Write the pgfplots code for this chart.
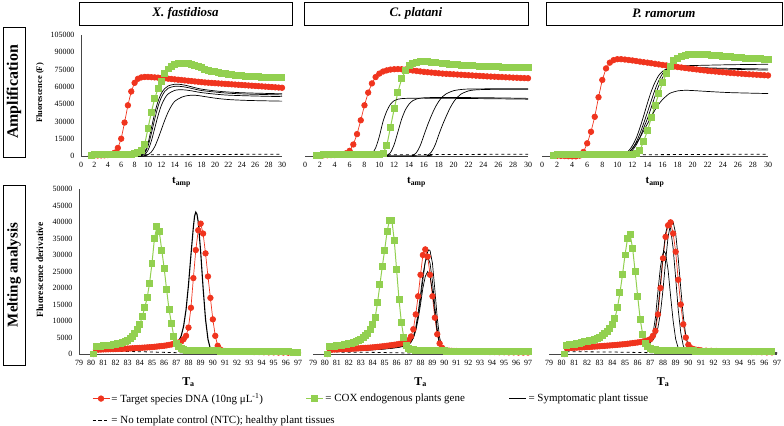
\documentclass[border=0pt]{standalone}
\usepackage{fontspec}
\setmainfont{Liberation Serif}
\usepackage{pgfplots}
\usepackage{pgfplotstable}
\pgfplotsset{compat=1.18}
\definecolor{cRed}{RGB}{240,52,30}
\definecolor{cGrn}{RGB}{146,208,80}

\pgfplotstableread[row sep=\\]{
t r g\\
1.5 500 800\\ 2 500 900\\ 2.5 500 1000\\ 3 550 1000\\ 3.5 600 1000\\ 4 800 1000\\ 4.5 1200 1000\\ 5 2800 1000\\
5.5 7000 1000\\ 6 15000 1000\\ 6.5 29000 1100\\ 7 44000 1200\\ 7.5 56000 1400\\ 8 63500 1800\\ 8.5 67000 3000\\
9 68200 5000\\ 9.5 68600 10000\\ 10 68600 24000\\ 10.5 68400 38000\\ 11 68200 50000\\ 11.5 68000 58500\\
12 67700 65000\\ 12.5 67400 71500\\ 13 67100 75500\\ 13.5 66800 78000\\ 14 66500 79300\\ 14.5 66200 80000\\
15 65900 80300\\ 15.5 65600 80300\\ 16 65300 80000\\ 16.5 65000 79300\\ 17 64700 78400\\ 17.5 64400 77400\\
18 64100 76400\\ 18.5 63800 75400\\ 19 63600 74500\\ 19.5 63400 73700\\ 20 63200 73000\\ 20.5 63000 72400\\
21 62800 71800\\ 21.5 62600 71300\\ 22 62400 70900\\ 22.5 62200 70500\\ 23 62000 70200\\ 23.5 61800 69900\\
24 61600 69600\\ 24.5 61400 69400\\ 25 61200 69200\\ 25.5 61000 69000\\ 26 60800 68800\\ 26.5 60600 68600\\
27 60400 68500\\ 27.5 60200 68300\\ 28 60000 68200\\ 28.5 59800 68100\\ 29 59600 68000\\ 29.5 59400 67900\\
30 59200 67800\\
}\ampA

\pgfplotstableread[row sep=\\]{
t r g\\
1.5 600 700\\ 2 600 800\\ 2.5 650 900\\ 3 700 1000\\ 3.5 800 1000\\ 4 900 1000\\ 4.5 1100 1000\\ 5 1500 1000\\
5.5 2300 1000\\ 6 4500 1000\\ 6.5 10000 1000\\ 7 19000 1000\\ 7.5 31000 1000\\ 8 44000 1000\\ 8.5 55000 1000\\
9 63000 1000\\ 9.5 68500 1000\\ 10 71500 1100\\ 10.5 73300 2500\\ 11 74300 9000\\ 11.5 75000 25000\\
12 75300 41000\\ 12.5 75400 55500\\ 13 75300 67000\\ 13.5 75000 74000\\ 14 74600 78500\\ 14.5 74200 80500\\
15 73800 81500\\ 15.5 73400 81800\\ 16 73000 81800\\ 16.5 72700 81600\\ 17 72400 81300\\ 17.5 72100 81000\\
18 71800 80700\\ 18.5 71500 80400\\ 19 71300 80100\\ 19.5 71100 79800\\ 20 70900 79500\\ 20.5 70700 79200\\
21 70500 78900\\ 21.5 70300 78700\\ 22 70100 78500\\ 22.5 69900 78300\\ 23 69700 78100\\ 23.5 69500 77900\\
24 69300 77800\\ 24.5 69100 77600\\ 25 68900 77500\\ 25.5 68800 77400\\ 26 68600 77300\\ 26.5 68500 77200\\
27 68300 77100\\ 27.5 68200 77000\\ 28 68000 76900\\ 28.5 67900 76800\\ 29 67700 76700\\ 29.5 67600 76600\\
30 67500 76500\\
}\ampB

\pgfplotstableread[row sep=\\]{
t r g\\
1.5 300 800\\ 2 200 900\\ 2.5 100 1000\\ 3 0 1000\\ 3.5 -200 1000\\ 4 -300 1000\\ 4.5 -300 1000\\ 5 300 1000\\
5.5 3500 1000\\ 6 11000 1000\\ 6.5 21000 1000\\ 7 34000 1000\\ 7.5 51000 1000\\ 8 66000 1000\\ 8.5 76000 1000\\
9 81000 1000\\ 9.5 83200 1000\\ 10 84000 1000\\ 10.5 84000 1000\\ 11 83700 1000\\ 11.5 83300 1000\\
12 82900 1100\\ 12.5 82400 1800\\ 13 81900 5000\\ 13.5 81400 13000\\ 14 81000 22000\\ 14.5 80500 33000\\
15 80000 44000\\ 15.5 79500 54000\\ 16 79000 63500\\ 16.5 78600 71500\\ 17 78100 78000\\ 17.5 77600 82500\\
18 77200 85000\\ 18.5 76800 86500\\ 19 76300 87400\\ 19.5 75900 87900\\ 20 75500 88200\\ 20.5 75100 88300\\
21 74700 88300\\ 21.5 74300 88100\\ 22 73900 87900\\ 22.5 73600 87600\\ 23 73300 87300\\ 23.5 73000 87000\\
24 72700 86700\\ 24.5 72400 86400\\ 25 72100 86100\\ 25.5 71900 85800\\ 26 71600 85500\\ 26.5 71400 85300\\
27 71100 85000\\ 27.5 70900 84800\\ 28 70700 84600\\ 28.5 70500 84400\\ 29 70300 84200\\ 29.5 70100 84000\\
30 69900 83800\\
}\ampC

\pgfplotstableread[row sep=\\]{
t r g\\
80.2 0 0\\ 80.4 1300 2300\\ 80.6 1330 2350\\ 80.8 1360 2400\\ 81.0 1400 2450\\ 81.2 1420 2500\\ 81.4 1440 2600\\
81.6 1460 2700\\ 81.8 1480 2800\\ 82.0 1500 2950\\ 82.2 1530 3100\\ 82.4 1560 3300\\ 82.6 1590 3550\\
82.8 1620 3850\\ 83.0 1650 4200\\ 83.2 1690 4700\\ 83.4 1730 5300\\ 83.6 1770 6200\\ 83.8 1810 7400\\
84.0 1850 9000\\ 84.2 1900 11300\\ 84.4 1950 14000\\ 84.6 2000 17000\\ 84.8 2050 21500\\ 85.0 2100 27500\\
85.2 2180 35000\\ 85.4 2260 38500\\ 85.6 2340 37000\\ 85.8 2420 31500\\ 86.0 2500 26000\\ 86.2 2620 19500\\
86.4 2750 13500\\ 86.6 2900 9300\\ 86.8 3100 5200\\ 87.0 3300 3200\\ 87.2 3500 2200\\ 87.4 3800 1600\\
87.6 4500 1300\\ 87.8 5500 1200\\ 88.0 8000 1150\\ 88.2 14000 1100\\ 88.4 23000 1100\\ 88.6 31500 1050\\
88.8 37500 1050\\ 89.0 39500 1000\\ 89.2 36500 1000\\ 89.4 30500 1000\\ 89.6 23500 1000\\ 89.8 17000 950\\
90.0 10500 950\\ 90.2 5500 950\\ 90.4 2500 950\\ 90.6 1400 900\\ 90.8 1000 900\\ 91.0 900 900\\
91.4 850 900\\ 91.8 800 850\\ 92.2 750 850\\ 92.6 700 850\\ 93.0 650 800\\ 93.4 600 800\\ 93.8 600 800\\
94.2 550 750\\ 94.6 500 750\\ 95.0 500 700\\ 95.4 450 700\\ 95.8 450 650\\ 96.2 400 650\\ 96.6 400 600\\
97.0 350 600\\
}\melA

\pgfplotstableread[row sep=\\]{
t r g\\
80.2 0 0\\ 80.4 1300 2200\\ 80.6 1330 2300\\ 80.8 1360 2400\\ 81.0 1400 2500\\ 81.2 1430 2600\\ 81.4 1460 2700\\
81.6 1490 2850\\ 81.8 1520 3000\\ 82.0 1550 3150\\ 82.2 1590 3300\\ 82.4 1630 3500\\ 82.6 1670 3750\\
82.8 1710 4050\\ 83.0 1750 4400\\ 83.2 1800 4900\\ 83.4 1850 5500\\ 83.6 1900 6300\\ 83.8 1950 7500\\
84.0 2000 9000\\ 84.2 2080 11000\\ 84.4 2160 15500\\ 84.6 2240 21000\\ 84.8 2320 26500\\ 85.0 2400 31500\\
85.2 2500 37000\\ 85.4 2600 40500\\ 85.6 2700 40500\\ 85.8 2800 34500\\ 86.0 2900 25500\\ 86.2 3050 16500\\
86.4 3200 9500\\ 86.6 3400 5000\\ 86.8 3750 2500\\ 87.0 4200 1700\\ 87.2 5300 1400\\ 87.4 7500 1250\\
87.6 12000 1150\\ 87.8 17500 1100\\ 88.0 24000 1050\\ 88.2 30000 1050\\ 88.4 31700 1000\\ 88.6 29500 1000\\
88.8 24000 1000\\ 89.0 17500 1000\\ 89.2 11000 1000\\ 89.4 6000 950\\ 89.6 3200 950\\ 89.8 1900 950\\
90.0 1300 950\\ 90.2 1100 900\\ 90.4 1000 900\\ 90.6 950 900\\ 90.8 900 900\\ 91.0 900 900\\
91.4 850 850\\ 91.8 800 850\\ 92.2 750 850\\ 92.6 700 800\\ 93.0 700 800\\ 93.4 650 800\\ 93.8 600 750\\
94.2 600 750\\ 94.6 550 750\\ 95.0 550 700\\ 95.4 500 700\\ 95.8 500 700\\ 96.2 450 650\\ 96.6 450 650\\
97.0 450 650\\
}\melB

\pgfplotstableread[row sep=\\]{
t r g\\
80.2 0 0\\ 80.4 1800 2700\\ 80.6 1830 2800\\ 80.8 1860 2900\\ 81.0 1900 3000\\ 81.2 1940 3150\\ 81.4 1980 3300\\
81.6 2020 3500\\ 81.8 2060 3700\\ 82.0 2100 3850\\ 82.2 2150 4000\\ 82.4 2200 4200\\ 82.6 2250 4450\\
82.8 2300 4750\\ 83.0 2350 5100\\ 83.2 2410 5600\\ 83.4 2470 6200\\ 83.6 2530 6900\\ 83.8 2590 7800\\
84.0 2650 9000\\ 84.2 2720 10800\\ 84.4 2790 14000\\ 84.6 2860 18500\\ 84.8 2930 24000\\ 85.0 3000 30000\\
85.2 3100 35000\\ 85.4 3200 36300\\ 85.6 3300 32000\\ 85.8 3400 25000\\ 86.0 3500 17500\\ 86.2 3620 10500\\
86.4 3750 5800\\ 86.6 3900 3200\\ 86.8 4150 2200\\ 87.0 4500 1700\\ 87.2 5500 1400\\ 87.4 7000 1250\\
87.6 12000 1150\\ 87.8 20000 1100\\ 88.0 29000 1100\\ 88.2 35500 1050\\ 88.4 39000 1050\\ 88.6 39900 1050\\
88.8 36500 1000\\ 89.0 31000 1000\\ 89.2 22500 1000\\ 89.4 15000 1000\\ 89.6 9000 1000\\ 89.8 5000 950\\
90.0 2800 950\\ 90.2 1800 950\\ 90.4 1500 950\\ 90.6 1300 900\\ 90.8 1200 900\\ 91.0 1100 900\\
91.4 1000 900\\ 91.8 950 850\\ 92.2 900 850\\ 92.6 850 850\\ 93.0 800 800\\ 93.4 750 800\\ 93.8 700 800\\
94.2 700 750\\ 94.6 650 750\\ 95.0 600 750\\ 95.4 600 700\\ 95.8 550 700\\ 96.2 500 700\\ 96.6 500 650\\
}\melC

\pgfplotsset{
  every axis/.append style={
    scale only axis, clip=false, anchor=south west,
    tick label style={font=\fontsize{8}{9}\selectfont},
    /pgf/number format/fixed,
    /pgf/number format/precision=0,
    /pgf/number format/assume math mode=true,
    /pgf/number format/1000 sep={},
    scaled y ticks=false, scaled x ticks=false,
    major tick length=0pt,
    axis line style={gray!55!black, line width=0.6pt},
    xticklabel style={yshift=-2.5bp},
    yticklabel style={xshift=-3bp},
  },
  ampax/.style={xmin=0, xmax=30, ymin=0, ymax=105000, height=121bp,
    xtick={0,2,...,30},
    xlabel={\fontsize{11}{12}\selectfont\textbf{t\textsubscript{amp}}},
    xlabel style={at={(axis description cs:0.5,-0.215)}, anchor=center}},
  melax/.style={xmin=79, xmax=97, ymin=0, ymax=50000, height=165bp,
    xtick={79,80,...,97},
    xlabel={\fontsize{12}{13}\selectfont\textbf{T\textsubscript{a}}},
    xlabel style={at={(axis description cs:0.5,-0.17)}, anchor=center}},
  firstcol/.style={axis x line*=bottom, axis y line*=left},
  othercol/.style={axis x line*=bottom, axis y line=none, ytick=\empty},
  redS/.style={color=cRed, line width=0.7pt, mark=*, mark size=2.8pt, mark options={solid, fill=cRed, draw=cRed}},
  grnS/.style={color=cGrn, line width=1pt, mark=square*, mark size=3pt, mark options={solid, fill=cGrn, draw=cGrn}},
  blkS/.style={black, line width=0.7pt, no marks},
  ntcS/.style={black, dashed, line width=0.8pt, no marks},
}

\begin{document}
\begin{tikzpicture}[x=1bp,y=1bp]
\path[use as bounding box] (0,0) rectangle (784,425);

% column headers
\draw[line width=0.6pt] (79,400) rectangle (292,423);
\node[font=\fontsize{13}{14}\selectfont\bfseries\itshape] at (185.5,411.5) {X. fastidiosa};
\draw[line width=0.6pt] (304,400) rectangle (528,423);
\node[font=\fontsize{13}{14}\selectfont\bfseries\itshape] at (416,411.5) {C. platani};
\draw[line width=0.6pt] (546,400) rectangle (782,423);
\node[font=\fontsize{13}{14}\selectfont\bfseries\itshape] at (664,411.5) {P. ramorum};
% row headers
\draw[line width=0.6pt] (3,268) rectangle (25,398);
\node[rotate=90, font=\fontsize{16}{17}\selectfont\bfseries] at (14,333) {Amplification};
\draw[line width=0.6pt] (3,60) rectangle (25,240);
\node[rotate=90, font=\fontsize{15}{16}\selectfont\bfseries] at (14,150) {Melting analysis};

% ---------- Amplification ----------
\begin{axis}[ampax, firstcol, at={(81bp,269bp)}, width=201bp,
  ytick={0,15000,...,105000},
  ylabel={\fontsize{8.5}{9}\selectfont\textbf{Fluorescence (F)}},
  ylabel style={at={(axis description cs:-0.204,0.52)}, anchor=center}]
\addplot[redS] table[x=t,y=r]{\ampA};
\addplot[grnS] table[x=t,y=g]{\ampA};
\addplot[blkS, smooth] coordinates {(1.5,0)(8.5,0)(9,800)(9.5,3500)(10,11000)(10.5,24000)(11,37000)(11.5,47500)(12,54500)(12.5,58500)(13,60800)(14,62300)(15,62000)(16,60800)(17,59300)(18,58000)(20,56500)(22,55500)(25,54700)(30,54000)};
\addplot[blkS, smooth] coordinates {(1.5,0)(8.5,0)(9,500)(9.5,2500)(10,8500)(10.5,19500)(11,32000)(11.5,43000)(12,51000)(12.5,56000)(13,58800)(14,60500)(15,60300)(16,59300)(17,58000)(18,56800)(20,55500)(22,54500)(25,53700)(30,53000)};
\addplot[blkS, smooth] coordinates {(1.5,0)(9,0)(9.5,1200)(10,5000)(10.5,13000)(11,24000)(11.5,35000)(12,44000)(12.5,50000)(13,53800)(14,57000)(15,57500)(16,57000)(17,56000)(18,55000)(20,53700)(22,52800)(25,52200)(30,51500)};
\addplot[blkS, smooth] coordinates {(1.5,0)(9,0)(9.5,300)(10,1200)(10.5,3500)(11,8000)(11.5,15000)(12,23000)(12.5,31000)(13,38000)(13.5,43500)(14,47500)(15,51000)(16,52500)(17,52700)(18,52000)(20,50200)(22,49000)(25,48200)(30,47600)};
\addplot[ntcS] coordinates {(1.5,800)(10,1000)(20,1300)(30,1600)};
\end{axis}

\begin{axis}[ampax, othercol, at={(305bp,269bp)}, width=223bp]
\addplot[redS] table[x=t,y=r]{\ampB};
\addplot[grnS] table[x=t,y=g]{\ampB};
\addplot[blkS, smooth] coordinates {(1.5,0)(8,0)(8.5,400)(9,2000)(9.5,7000)(10,17000)(10.5,30000)(11,39000)(11.5,45000)(12,48000)(12.5,49300)(13,49800)(14,50100)(16,50200)(20,50000)(25,49700)(30,49300)};
\addplot[blkS, smooth] coordinates {(1.5,0)(10.5,0)(11,600)(11.5,3000)(12,10000)(12.5,21000)(13,32000)(13.5,40000)(14,45000)(14.5,48000)(15,49500)(16,50500)(18,50800)(20,50800)(25,50500)(30,50000)};
\addplot[blkS, smooth] coordinates {(1.5,0)(14,0)(14.5,600)(15,3000)(15.5,9000)(16,18000)(16.5,27000)(17,35000)(17.5,42000)(18,47500)(18.5,51500)(19,54000)(20,56700)(21,57700)(22,58100)(25,58300)(30,58300)};
\addplot[blkS, smooth] coordinates {(1.5,0)(16,0)(16.5,800)(17,3500)(17.5,9500)(18,18500)(18.5,27000)(19,34500)(19.5,41500)(20,47000)(20.5,51000)(21,53800)(22,56500)(23,57400)(25,57800)(30,57800)};
\addplot[ntcS] coordinates {(1.5,800)(10,1000)(20,1300)(30,1600)};
\end{axis}

\begin{axis}[ampax, othercol, at={(542bp,269bp)}, width=226bp]
\addplot[redS] table[x=t,y=r]{\ampC};
\addplot[grnS] table[x=t,y=g]{\ampC};
\addplot[blkS, smooth] coordinates {(1.5,0)(10,0)(10.5,700)(11,2000)(11.5,4500)(12,9000)(12.5,15500)(13,24500)(13.5,35000)(14,46000)(14.5,56000)(15,64000)(15.5,70000)(16,73500)(16.5,75500)(17,76500)(18,77000)(20,76500)(22,76000)(25,75300)(30,74500)};
\addplot[blkS, smooth] coordinates {(1.5,0)(10.5,0)(11,800)(11.5,2200)(12,5000)(12.5,9500)(13,16000)(13.5,24500)(14,32500)(14.5,42000)(15,52000)(15.5,61000)(16,68000)(16.5,73000)(17,76000)(17.5,77500)(18,78200)(20,78500)(22,78800)(25,79200)(30,79600)};
\addplot[blkS, smooth] coordinates {(1.5,0)(10.5,0)(11,1000)(11.5,3000)(12,6500)(12.5,12000)(13,19500)(13.5,28500)(14,38000)(14.5,48000)(15,57500)(15.5,65500)(16,71500)(16.5,75000)(17,76800)(18,77500)(20,77000)(22,76500)(25,76000)(30,75500)};
\addplot[blkS, smooth] coordinates {(1.5,0)(10.5,0)(11,1000)(11.5,3000)(12,6500)(12.5,11000)(13,16000)(13.5,22000)(14,28000)(14.5,34000)(15,40000)(15.5,45000)(16,49000)(16.5,52000)(17,54500)(18,56500)(19,57000)(20,56800)(22,56000)(25,55000)(30,54200)};
\addplot[ntcS] coordinates {(1.5,800)(10,1000)(20,1300)(30,1600)};
\end{axis}

% ---------- Melting ----------
\begin{axis}[melax, firstcol, at={(79bp,71bp)}, width=219bp,
  ytick={0,5000,...,50000},
  ylabel={\fontsize{9.5}{10}\selectfont\textbf{Fluorescence derivative}},
  ylabel style={at={(axis description cs:-0.178,0.51)}, anchor=center},
  legend columns=3, legend cell align=left,
  legend style={at={(axis description cs:0.059,-0.228)}, anchor=north west,
    draw=none, fill=none, font=\fontsize{11}{12}\selectfont,
    /tikz/every even column/.append style={column sep=0bp},
    row sep=9bp, inner sep=0pt, nodes={inner sep=1.5bp}}]
\addplot[redS] table[x=t,y=r]{\melA};
\addlegendentry{\makebox[193bp][l]{= Target species DNA (10ng μL\textsuperscript{-1})}}
\addplot[grnS] table[x=t,y=g]{\melA};
\addlegendentry{\makebox[182bp][l]{= COX endogenous plants gene}}
\addplot[blkS, line width=1.1pt] coordinates {(80.2,0)(80.4,1000)(81,1100)(82,1200)(83,1350)(84,1550)(85,1800)(86,2200)(86.6,2600)(87.0,3200)(87.2,4000)(87.4,5500)(87.6,8500)(87.8,13500)(88.0,21000)(88.2,30000)(88.4,38500)(88.5,41800)(88.6,43000)(88.7,42300)(88.8,40000)(89.0,31000)(89.2,20000)(89.4,10500)(89.6,4500)(89.8,1500)(90.0,600)(90.4,300)(97,200)};
\addlegendentry{= Symptomatic plant tissue}
\addplot[ntcS] coordinates {(80.4,900)(84,700)(87,400)(88,300)(97,300)};
\addlegendentry{\makebox[193bp][l]{= No template control (NTC); healthy plant tissues}}
\end{axis}

\begin{axis}[melax, othercol, at={(313bp,71bp)}, width=215bp]
\addplot[redS] table[x=t,y=r]{\melB};
\addplot[grnS] table[x=t,y=g]{\melB};
\addplot[blkS] coordinates {(80.2,0)(80.4,800)(81,900)(82,1000)(83,1150)(84,1350)(85,1600)(86,2000)(86.6,2400)(87.0,3000)(87.2,3700)(87.4,5000)(87.6,7500)(87.8,11500)(88.0,16500)(88.2,22500)(88.4,28000)(88.6,31000)(88.7,31600)(88.8,31300)(89.0,27500)(89.2,19500)(89.4,11000)(89.6,5000)(89.8,2000)(90.0,900)(90.4,400)(97,300)};
\addplot[blkS] coordinates {(80.2,0)(80.4,800)(81,900)(82,1000)(83,1150)(84,1350)(85,1600)(86,2000)(86.6,2400)(87.0,3000)(87.2,3800)(87.4,5300)(87.6,8000)(87.8,12500)(88.0,18000)(88.2,24000)(88.4,28000)(88.6,29500)(88.8,27500)(89.0,22000)(89.2,14500)(89.4,7500)(89.6,3200)(89.8,1300)(90.0,600)(90.4,350)(97,300)};
\addplot[blkS] coordinates {(80.2,0)(80.4,700)(81,800)(82,900)(83,1050)(84,1250)(85,1500)(86,1900)(86.6,2300)(87.0,2800)(87.2,3500)(87.4,4800)(87.6,7000)(87.8,10500)(88.0,15000)(88.2,20000)(88.4,23500)(88.6,25000)(88.8,23500)(89.0,19000)(89.2,12500)(89.4,6500)(89.6,2800)(89.8,1100)(90.0,500)(90.4,300)(97,300)};
\addplot[ntcS] coordinates {(80.4,600)(84,500)(87,300)(97,300)};
\end{axis}

\begin{axis}[melax, othercol, at={(549bp,71bp)}, width=228bp]
\addplot[redS] table[x=t,y=r]{\melC};
\addplot[grnS] table[x=t,y=g]{\melC};
\addplot[blkS] coordinates {(80.2,0)(80.4,1500)(81,1600)(82,1800)(83,2000)(84,2300)(85,2700)(86,3200)(86.6,3500)(87.0,4000)(87.2,6000)(87.4,11000)(87.6,19000)(87.8,26500)(88.0,30500)(88.1,31000)(88.2,30500)(88.4,25500)(88.6,17500)(88.8,10000)(89.0,4500)(89.2,1800)(89.4,800)(89.6,500)(90,400)(97,300)};
\addplot[blkS] coordinates {(80.2,0)(80.4,1400)(81,1500)(82,1700)(83,1900)(84,2200)(85,2600)(86,3100)(86.6,3400)(87.0,3800)(87.2,5000)(87.4,8000)(87.6,13500)(87.8,21500)(88.0,30000)(88.2,36500)(88.4,39500)(88.6,38000)(88.8,32000)(89.0,23000)(89.2,13500)(89.4,6500)(89.6,2500)(89.8,1000)(90.0,500)(97,300)};
\addplot[blkS] coordinates {(80.2,0)(80.4,1300)(81,1400)(82,1600)(83,1800)(84,2100)(85,2500)(86,3000)(86.6,3300)(87.0,3500)(87.2,4200)(87.4,5500)(87.6,8000)(87.8,12500)(88.0,19500)(88.2,28000)(88.4,35500)(88.6,39500)(88.8,40000)(89.0,36500)(89.2,29000)(89.4,20000)(89.6,11500)(89.8,5500)(90.0,2200)(90.2,900)(90.4,500)(97,300)};
\addplot[ntcS] coordinates {(80.4,700)(84,600)(87,400)(96.6,400)};
\end{axis}
\end{tikzpicture}
\end{document}
